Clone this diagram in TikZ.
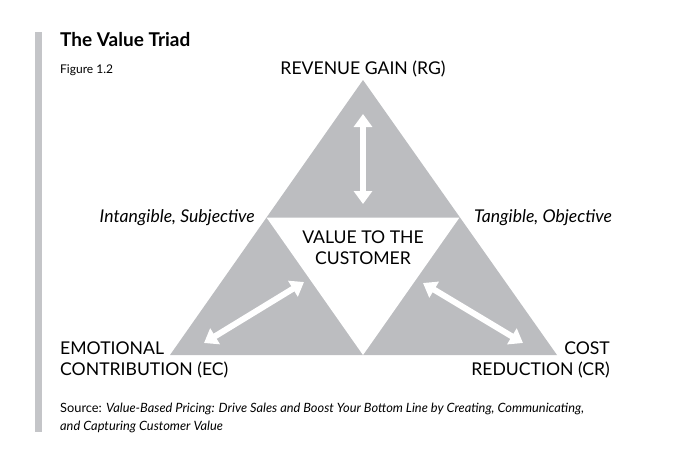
\documentclass[tikz,border=0pt]{standalone}
\usepackage{fontspec}
\setmainfont{Lato}
\usetikzlibrary{arrows.meta}
\definecolor{tri}{HTML}{BCBDC0}
\definecolor{bar}{HTML}{C4C5C8}
\tikzset{
  lbl/.style={font=\fontsize{17.6}{21}\selectfont, inner sep=0pt, align=center},
  warrow/.style={white, line width=6pt, {Triangle[length=13pt,width=18pt]}-{Triangle[length=13pt,width=18pt]}}
}
\begin{document}
\begin{tikzpicture}[x=1pt,y=-1pt]
\useasboundingbox (0,0) rectangle (692,469);
\fill[bar] (35,32) rectangle (42,432);
\node[anchor=west, inner sep=0pt, font=\fontsize{19}{22}\selectfont\bfseries] (title) at (60,40) {The Value Triad};
\node[anchor=west, inner sep=0pt, font=\fontsize{12}{14}\selectfont] (fig) at (60,70) {Figure 1.2};
\coordinate (A) at (363,80);
\coordinate (B) at (170,355);
\coordinate (C) at (557,355);
\fill[tri] (A) -- (B) -- (C) -- cycle;
\fill[white] (266.5,217.5) -- (459.5,217.5) -- (363,355) -- cycle;
\coordinate (t1) at (363,114); \coordinate (t2) at (363,204);
\coordinate (l1) at (204,343); \coordinate (l2) at (304,282);
\coordinate (r1) at (423,283); \coordinate (r2) at (523,343);
\draw[warrow] (t1) -- (t2);
\draw[warrow] (l1) -- (l2);
\draw[warrow] (r1) -- (r2);
\node[lbl] (rg) at (363,69) {REVENUE GAIN (RG)};
\node[lbl, anchor=east, font=\fontsize{17.6}{21}\selectfont\itshape] (int) at (255,218) {Intangible, Subjective};
\node[lbl, anchor=west, font=\fontsize{17.6}{21}\selectfont\itshape] (tan) at (474,218) {Tangible, Objective};
\node[lbl] (val) at (363,248) {VALUE TO THE\\CUSTOMER};
\node[lbl, anchor=west, align=left] (ec) at (60,360) {EMOTIONAL\\CONTRIBUTION (EC)};
\node[lbl, anchor=east, align=right] (cr) at (610,360) {COST\\REDUCTION (CR)};
\node[anchor=north west, inner sep=0pt, align=left, font=\fontsize{12.8}{18}\selectfont] (src) at (60,403)
 {Source: \textit{Value-Based Pricing: Drive Sales and Boost Your Bottom Line by Creating, Communicating,}\\\textit{and Capturing Customer Value}};
\end{tikzpicture}
\end{document}
